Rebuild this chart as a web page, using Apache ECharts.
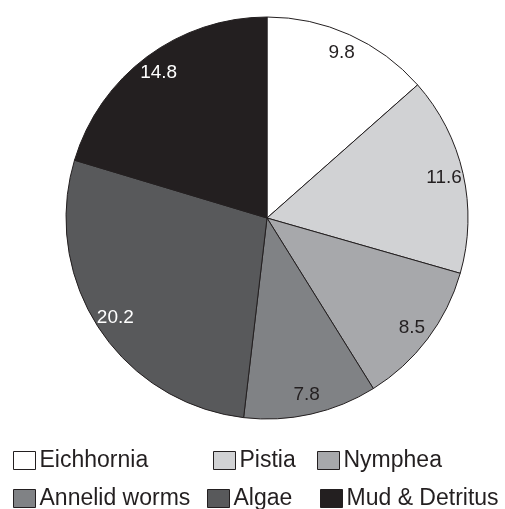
<!DOCTYPE html>
<html>
<head>
<meta charset="utf-8">
<script src="https://cdn.jsdelivr.net/npm/echarts@6/dist/echarts.min.js"></script>
<style>html,body{margin:0;padding:0;background:#fff;}#c{width:505px;height:509px;}</style>
</head>
<body>
<div id="c"></div>
<script>
const categories = ['Eichhornia', 'Pistia', 'Nymphea', 'Annelid worms', 'Algae', 'Mud & Detritus'];
const values = [9.8, 11.6, 8.5, 7.8, 20.2, 14.8];
const colors = ['#ffffff', '#d1d2d4', '#a7a8ab', '#808285', '#58595b', '#231f20'];
const labelColors = ['#231f20', '#231f20', '#231f20', '#231f20', '#ffffff', '#ffffff'];

const FONT = '"Liberation Sans", Arial, Helvetica, sans-serif';
const CENTER = [267, 218];
const R = 201;

const legendPos = [
  [13, 449], [213, 449], [317, 449],
  [13, 487], [207, 487], [320, 487]
];

const legends = categories.map((name, i) => ({
  left: legendPos[i][0],
  top: legendPos[i][1],
  padding: 0,
  itemWidth: 22,
  itemHeight: 18,
  icon: 'rect',
  selectedMode: false,
  textStyle: { fontFamily: FONT, fontSize: 23, color: '#231f20', lineHeight: 18, padding: [0, 0, 0, -1] },
  data: [{ name: name, itemStyle: { color: colors[i], borderColor: '#231f20', borderWidth: 1 } }]
}));

const chart = echarts.init(document.getElementById('c'), null, { renderer: 'canvas' });
chart.setOption({
  animation: false,
  backgroundColor: '#ffffff',
  legend: legends,
  series: [
    {
      type: 'pie',
      center: CENTER,
      radius: [0, R],
      startAngle: 90,
      clockwise: true,
      silent: true,
      label: { show: false },
      labelLine: { show: false },
      itemStyle: { borderColor: '#231f20', borderWidth: 1 },
      data: categories.map((name, i) => ({ name: name, value: values[i], itemStyle: { color: colors[i] } }))
    },
    {
      type: 'pie',
      center: CENTER,
      radius: [156, R],
      startAngle: 90,
      clockwise: true,
      silent: true,
      z: 3,
      itemStyle: { color: 'rgba(0,0,0,0)', borderWidth: 0 },
      labelLine: { show: false },
      label: {
        show: true,
        position: 'inside',
        fontFamily: FONT,
        fontSize: 19,
        formatter: p => String(p.value)
      },
      data: categories.map((name, i) => ({
        name: name,
        value: values[i],
        label: { color: labelColors[i] }
      }))
    }
  ]
});
</script>
</body>
</html>
